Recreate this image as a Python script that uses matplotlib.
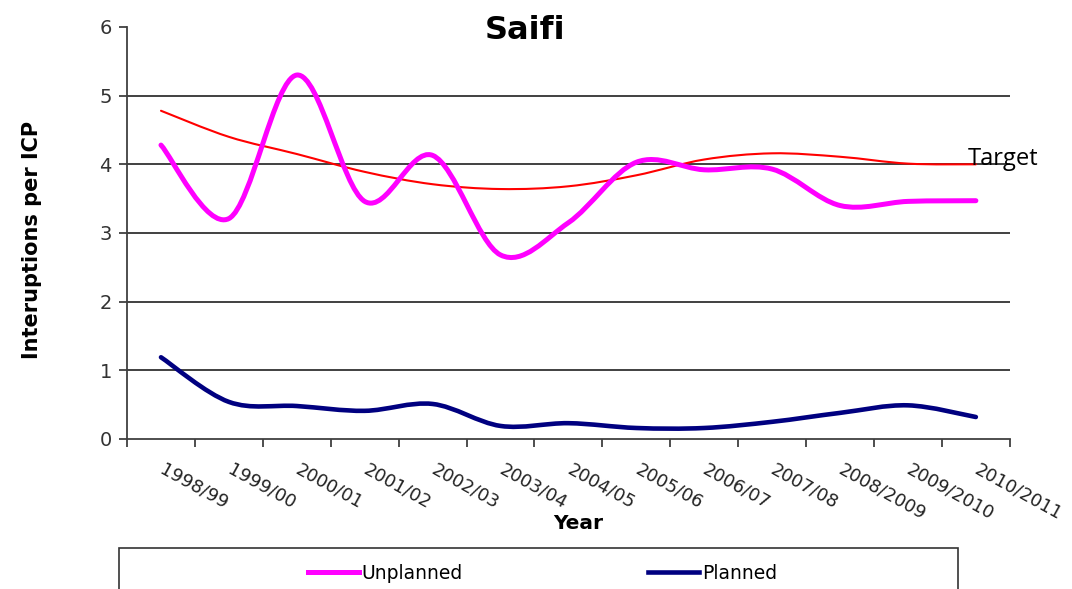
import numpy as np
import matplotlib
matplotlib.use("Agg")
import matplotlib.pyplot as plt
from matplotlib.path import Path
from matplotlib.patches import PathPatch, Rectangle
from matplotlib.lines import Line2D

years = ["1998/99", "1999/00", "2000/01", "2001/02", "2002/03", "2003/04",
         "2004/05", "2005/06", "2006/07", "2007/08", "2008/2009", "2009/2010",
         "2010/2011"]
unplanned = [4.28, 3.21, 5.30, 3.46, 4.13, 2.68, 3.15, 4.03, 3.92, 3.93, 3.40, 3.46, 3.47]
planned = [1.19, 0.54, 0.48, 0.41, 0.51, 0.19, 0.23, 0.16, 0.16, 0.25, 0.38, 0.49, 0.32]
target = [4.78, 4.40, 4.15, 3.89, 3.71, 3.64, 3.68, 3.84, 4.07, 4.16, 4.11, 4.01, 4.00]


def smooth_path(xs, ys):
    # Excel-style smoothed line: cubic Bezier segments (Catmull-Rom control points)
    pts = np.column_stack([xs, ys])
    ext = np.vstack([pts[0], pts, pts[-1]])
    verts = [pts[0]]
    codes = [Path.MOVETO]
    for i in range(len(pts) - 1):
        p0, p1, p2, p3 = ext[i], ext[i + 1], ext[i + 2], ext[i + 3]
        verts += [p1 + (p2 - p0) / 6, p2 - (p3 - p1) / 6, p2]
        codes += [Path.CURVE4] * 3
    return Path(verts, codes)


fig = plt.figure(figsize=(10.72, 5.89), dpi=100)
ax = fig.add_axes([0.1185, 0.2547, 0.8235, 0.6995])

x = np.arange(len(years)) + 0.5
for vals, col, lw in [(target, "#FF0000", 1.5), (unplanned, "#FF00FF", 3.6),
                      (planned, "#000080", 3.3)]:
    ax.add_patch(PathPatch(smooth_path(x, vals), fill=False, edgecolor=col,
                           lw=lw, capstyle="round", joinstyle="round", zorder=3))

ax.set_xlim(0, len(years))
ax.set_ylim(0, 6)
ax.set_yticks(range(0, 7))
ax.set_xticks(np.arange(len(years) + 1))
ax.set_xticklabels([])
for sp in ["top", "right"]:
    ax.spines[sp].set_visible(False)
for sp in ["left", "bottom"]:
    ax.spines[sp].set_color("#404040")
    ax.spines[sp].set_linewidth(1.3)
for yv in range(1, 6):
    ax.axhline(yv, color="#202020", lw=1.2, zorder=1)
ax.tick_params(axis="both", direction="out", length=6, width=1.3, color="#404040")
ax.tick_params(axis="y", labelsize=14, labelcolor="#333333", pad=5)

for xi, lab in zip(x, years):
    ax.annotate(lab, xy=(xi, 0), xycoords=("data", "axes fraction"),
                xytext=(0, -21), textcoords="offset points",
                rotation=-29, rotation_mode="anchor", ha="left", va="center",
                fontsize=13, color="#222222")

ax.text(len(years) - 0.62, 4.08, "Target", fontsize=17, family="Open Sans",
        ha="left", va="center")

fig.text(0.49, 0.948, "Saifi", fontsize=23, fontweight="bold", ha="center", va="center")
fig.text(0.030, 0.592, "Interuptions per ICP", fontsize=15, fontweight="bold",
         rotation=90, ha="center", va="center")
fig.text(0.539, 0.112, "Year", fontsize=14.5, fontweight="bold", ha="center", va="center")

fig.add_artist(Rectangle((119 / 1072, -0.05), (958 - 119) / 1072, 0.05 + 41 / 589,
                         transform=fig.transFigure, fill=False, edgecolor="#333333",
                         lw=1.2))
handles = [Line2D([], [], color="#FF00FF", lw=3.6),
           Line2D([], [], color="#000080", lw=3.3)]
fig.legend(handles, ["Unplanned", "Planned"], loc="center", ncol=2,
           bbox_to_anchor=(0.506, 0.027), frameon=False, fontsize=13.5,
           handlelength=2.7, handletextpad=0.15, columnspacing=9.9)

fig.savefig("out.png", dpi=100)
